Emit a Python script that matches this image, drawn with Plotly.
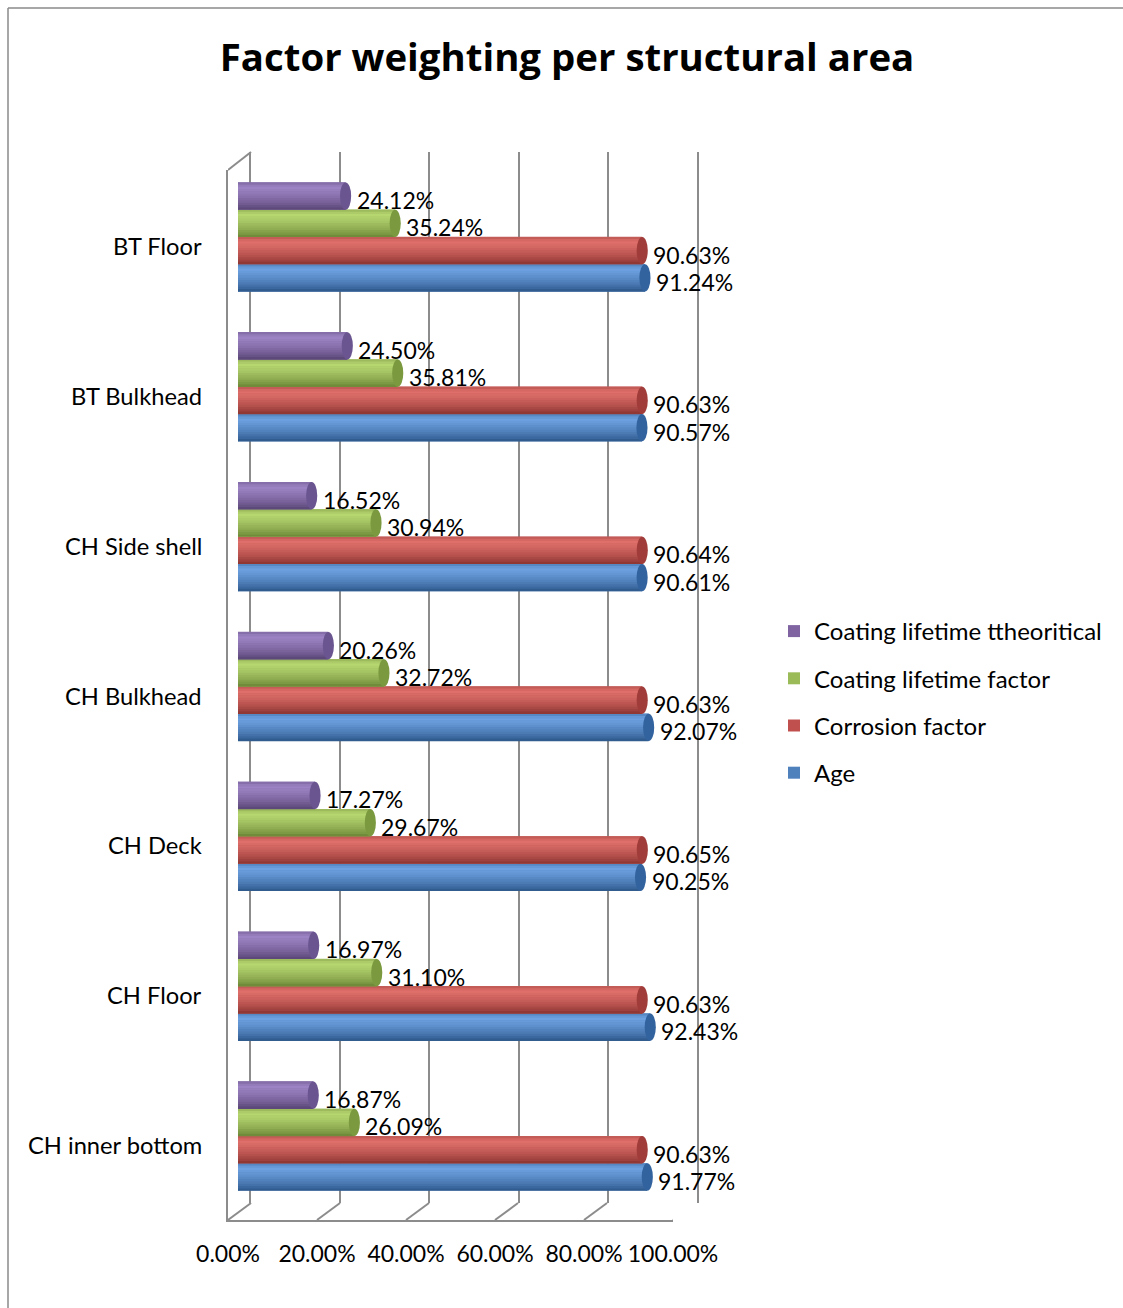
import plotly.graph_objects as go

# ---- data -------------------------------------------------------------
areas = ["CH inner bottom", "CH Floor", "CH Deck", "CH Bulkhead",
         "CH Side shell", "BT Bulkhead", "BT Floor"]
age = [91.77, 92.43, 90.25, 92.07, 90.61, 90.57, 91.24]
corrosion = [90.63, 90.63, 90.65, 90.63, 90.64, 90.63, 90.63]
coating_factor = [26.09, 31.10, 29.67, 32.72, 30.94, 35.81, 35.24]
coating_theoretical = [16.87, 16.97, 17.27, 20.26, 16.52, 24.50, 24.12]
x_ticks = [0, 20, 40, 60, 80, 100]

series = [
    # name, values, legend colour, highlight, shadow, cap colour
    ("Age", age, "#4F81BD", "#6FA3E3", "#2C5689", "#33639E"),
    ("Corrosion factor", corrosion, "#C0504D", "#E2716C", "#8A3331", "#A03D3A"),
    ("Coating lifetime factor", coating_factor, "#9BBB59", "#B8D872", "#6A8636", "#7B9A40"),
    ("Coating lifetime ttheoritical", coating_theoretical, "#8064A2", "#9E85C6", "#584474", "#6A5590"),
]

# ---- page geometry (pixels) ------------------------------------------
W, H = 1123, 1308
FONT = "Lato"


def fx(p):
    return p / W


def fy(p):
    return 1 - p / H


BAR_H = 0.182            # height of one cylinder in category units
N_BANDS = 12             # shading bands per cylinder
CAP_W = 1.25             # half width of the end ellipse, in percent units
DEPTH = 5.17             # floor depth offset, in percent units of the front axis

# brightness profile across a cylinder, from top (0) to bottom (1)
profile = [(0.0, 0.55), (0.18, 1.0), (0.4, 0.82), (0.7, 0.5), (0.9, 0.2), (1.0, 0.0)]


def shade(f):
    for (a, va), (b, vb) in zip(profile, profile[1:]):
        if a <= f <= b:
            return va + (vb - va) * (f - a) / (b - a)
    return 0.0


def mix(c1, c2, t):
    r1, g1, b1 = int(c1[1:3], 16), int(c1[3:5], 16), int(c1[5:7], 16)
    r2, g2, b2 = int(c2[1:3], 16), int(c2[3:5], 16), int(c2[5:7], 16)
    return "rgb(%d,%d,%d)" % (r1 + (r2 - r1) * t, g1 + (g2 - g1) * t, b1 + (b2 - b1) * t)


fig = go.Figure()

# back wall grid (subplot x / y)
fig.add_trace(go.Scatter(x=[50], y=[0.5], mode="markers", marker=dict(opacity=0),
                         hoverinfo="skip", showlegend=False, xaxis="x", yaxis="y"))
# front frame with tick labels (subplot x2 / y2)
fig.add_trace(go.Scatter(x=[50], y=[0.5], mode="markers", marker=dict(opacity=0),
                         hoverinfo="skip", showlegend=False, xaxis="x2", yaxis="y2"))

shapes = []
annotations = []
idx = list(range(len(areas)))
n_series = len(series)

for k, (name, vals, base, light, dark, cap) in enumerate(series):
    centers = [i + (k - 1.5) * BAR_H for i in idx]
    # full cylinder body (also carries the legend entry)
    fig.add_trace(go.Bar(
        x=vals, y=centers, orientation="h", width=BAR_H, name=name,
        marker=dict(color=base, line=dict(width=0)),
        legendgroup=name, legendrank=n_series - k,
        xaxis="x3", yaxis="y3", hoverinfo="skip"))
    # shading bands
    for j in range(N_BANDS):
        a, b = j / N_BANDS, (j + 1) / N_BANDS
        col = mix(dark, light, shade((a + b) / 2))
        fig.add_trace(go.Bar(
            x=vals, y=[c + BAR_H * (0.5 - (a + b) / 2) for c in centers],
            orientation="h", width=BAR_H / N_BANDS * 1.15,
            marker=dict(color=col, line=dict(width=0)),
            legendgroup=name, showlegend=False, xaxis="x3", yaxis="y3",
            hoverinfo="skip"))
    for c, v in zip(centers, vals):
        # far end of the cylinder
        shapes.append(dict(type="circle", xref="x3", yref="y3",
                           x0=v - CAP_W, x1=v + CAP_W,
                           y0=c - BAR_H / 2, y1=c + BAR_H / 2,
                           fillcolor=cap, line=dict(width=0), layer="above"))
        # rounded start of the cylinder
        shapes.append(dict(type="circle", xref="x3", yref="y3",
                           x0=-CAP_W, x1=CAP_W,
                           y0=c - BAR_H / 2, y1=c + BAR_H / 2,
                           fillcolor=base, line=dict(width=0), layer="below"))
        annotations.append(dict(x=v, y=c, xref="x3", yref="y3",
                                text=f"{v:.2f}%", showarrow=False,
                                xanchor="left", yanchor="middle",
                                xshift=9, yshift=-4,
                                font=dict(family=FONT, size=23, color="#000")))

# category labels
for i, a in zip(idx, areas):
    annotations.append(dict(x=fx(204), y=i, xref="paper", yref="y3", text=a,
                            showarrow=False, xanchor="right", yanchor="middle",
                            yshift=-9, font=dict(family=FONT, size=23.7, color="#000")))

GRID = "#8c8c8c"
# floor diagonals and the top edge of the side wall
for t in x_ticks:
    shapes.append(dict(type="line", xref="x2", yref="paper",
                       x0=t, y0=fy(1220), x1=t + DEPTH, y1=fy(1203),
                       line=dict(color=GRID, width=2), layer="below"))
shapes.append(dict(type="line", xref="x2", yref="paper",
                   x0=0, y0=fy(170), x1=DEPTH, y1=fy(152),
                   line=dict(color=GRID, width=2), layer="below"))
# chart area outline
shapes.append(dict(type="line", xref="paper", yref="paper",
                   x0=fx(8), y0=fy(8), x1=fx(1130), y1=fy(8),
                   line=dict(color="#8a8a8a", width=1.5)))
shapes.append(dict(type="line", xref="paper", yref="paper",
                   x0=fx(8), y0=fy(8), x1=fx(8), y1=fy(1320),
                   line=dict(color="#8a8a8a", width=1.5)))

fig.update_layout(
    width=W, height=H,
    margin=dict(l=0, r=0, t=0, b=0, autoexpand=False),
    paper_bgcolor="white", plot_bgcolor="rgba(0,0,0,0)",
    barmode="overlay",
    title=dict(text="<b>Factor weighting per structural area</b>",
               x=fx(567), y=fy(58), xanchor="center", yanchor="middle",
               font=dict(family="Open Sans", size=38.4, color="#000")),
    xaxis=dict(domain=[fx(251), fx(697)], range=[0, 100], anchor="y",
               tickvals=x_ticks, showgrid=True, gridcolor=GRID, gridwidth=2,
               showticklabels=False, zeroline=False, showline=False, ticks=""),
    yaxis=dict(domain=[fy(1203), fy(152)], range=[0, 1], anchor="x",
               showgrid=False, zeroline=False, showticklabels=False,
               showline=True, mirror=True, linecolor=GRID, linewidth=2),
    xaxis2=dict(domain=[fx(228), fx(673)], range=[0, 100], anchor="y2",
                tickvals=x_ticks, ticktext=[f"{t:.2f}%" for t in x_ticks],
                showgrid=False, zeroline=False, showline=True, linecolor=GRID,
                linewidth=2, ticks="", ticklabelstandoff=12,
                tickfont=dict(family=FONT, size=23, color="#000")),
    yaxis2=dict(domain=[fy(1220), fy(170)], range=[0, 1], anchor="x2",
                showgrid=False, zeroline=False, showticklabels=False,
                showline=True, linecolor=GRID, linewidth=2),
    xaxis3=dict(domain=[fx(238), fx(684)], range=[0, 100], anchor="y3", visible=False),
    yaxis3=dict(domain=[fy(1211), fy(162)], range=[-0.5, 6.5], anchor="x3", visible=False),
    legend=dict(x=fx(774), y=fy(609), xanchor="left", yanchor="top",
                traceorder="grouped", tracegroupgap=13,
                font=dict(family=FONT, size=24, color="#000"),
                bgcolor="rgba(0,0,0,0)"),
    shapes=shapes,
    annotations=annotations,
    showlegend=True,
)

fig.write_html("out.html")
